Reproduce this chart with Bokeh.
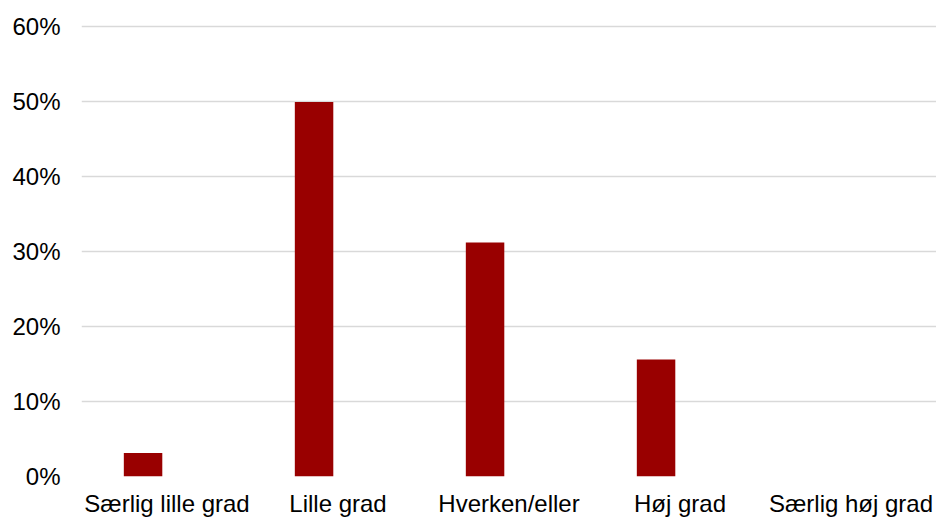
from bokeh.plotting import figure
from bokeh.models import ColumnDataSource, FixedTicker, PrintfTickFormatter, Range1d
from bokeh.transform import dodge
from bokeh.embed import file_html
from bokeh.resources import INLINE

categories = ["Særlig lille grad", "Lille grad", "Hverken/eller", "Høj grad", "Særlig høj grad"]
values = [3.125, 50.0, 31.25, 15.625, 0.0]
y_ticks = [0, 10, 20, 30, 40, 50, 60]

source = ColumnDataSource(data=dict(cat=categories, val=values))

p = figure(
    x_range=categories,
    y_range=Range1d(0, 61),
    width=936,
    height=519,
    output_backend="svg",
    toolbar_location=None,
    min_border_left=81,
    min_border_right=0,
    min_border_top=19,
    min_border_bottom=41,
)
p.outline_line_color = None
p.background_fill_color = "white"
p.border_fill_color = "white"

p.vbar(x=dodge("cat", -0.14, range=p.x_range), top="val", width=0.225, bottom=0,
       source=source, fill_color="#990000", line_color=None)

p.yaxis.ticker = FixedTicker(ticks=y_ticks)
p.yaxis.formatter = PrintfTickFormatter(format="%d%%")
p.ygrid.ticker = FixedTicker(ticks=y_ticks)
p.ygrid.grid_line_color = "#d9d9d9"
p.ygrid.grid_line_width = 1.5
p.xgrid.grid_line_color = None

for ax in (p.xaxis, p.yaxis):
    ax.axis_line_color = None
    ax.major_tick_line_color = None
    ax.minor_tick_line_color = None
    ax.major_tick_out = 0
    ax.major_tick_in = 0
    ax.major_label_text_font = "Liberation Sans"
    ax.major_label_text_font_size = "24px"
    ax.major_label_text_color = "#000000"

p.yaxis.major_label_standoff = 21
p.xaxis.major_label_standoff = 13
p.x_range.range_padding = 0

open("out.html", "w").write(file_html(p, INLINE))
